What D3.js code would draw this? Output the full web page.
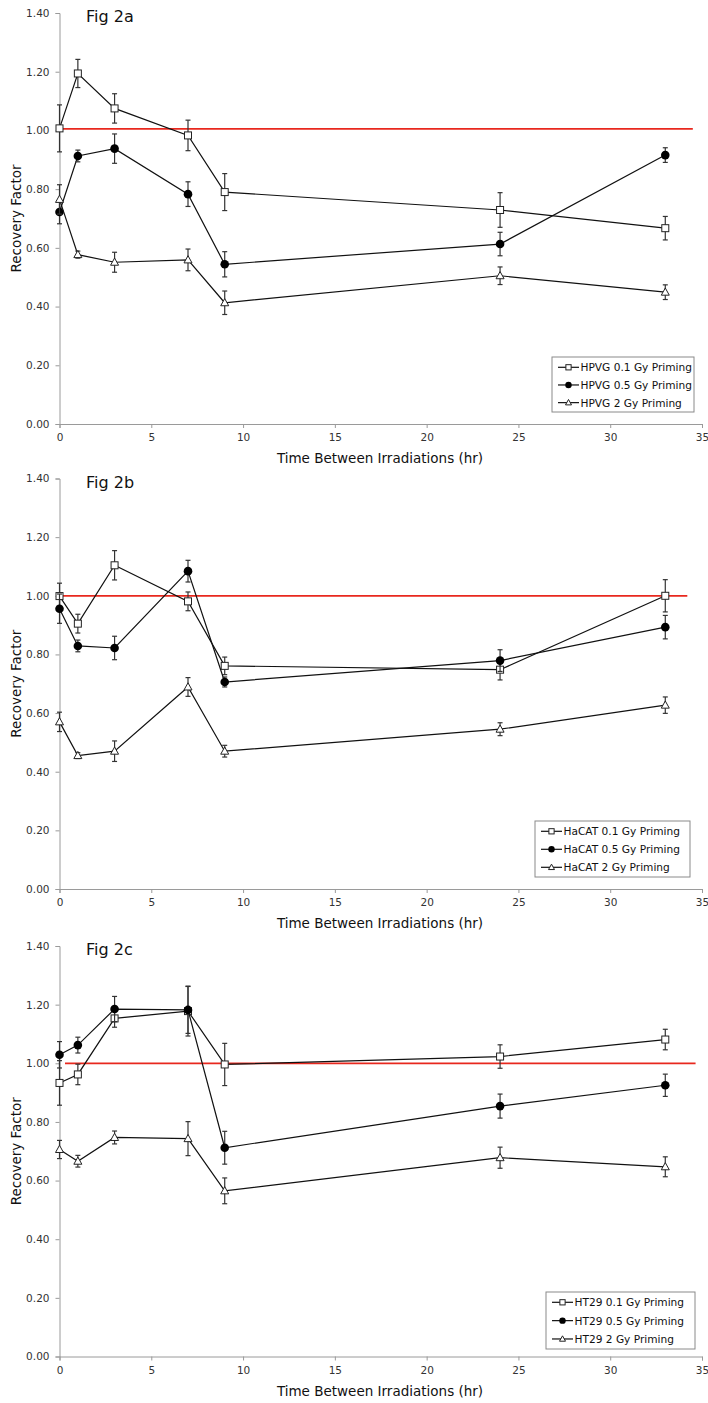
<!DOCTYPE html>
<html><head><meta charset="utf-8">
<script src="https://cdn.jsdelivr.net/npm/d3@7"></script>
<style>body{margin:0;background:#fff}svg{display:block}</style>
</head><body>
<script>
// ---- data ----
const hours = [0, 1, 3, 7, 9, 24, 33];
const xTicks = [0, 5, 10, 15, 20, 25, 30, 35];
const yTicks = [0, 0.2, 0.4, 0.6, 0.8, 1.0, 1.2, 1.4];
const panelTitles = ["Fig 2a", "Fig 2b", "Fig 2c"];
const cellLines = ["HPVG", "HaCAT", "HT29"];
const doses = ["0.1 Gy Priming", "0.5 Gy Priming", "2 Gy Priming"];

const hpvg01 = [1.007, 1.194, 1.075, 0.983, 0.790, 0.729, 0.667];
const hpvg01Err = [0.080, 0.048, 0.050, 0.052, 0.063, 0.059, 0.040];
const hpvg05 = [0.722, 0.913, 0.938, 0.783, 0.544, 0.613, 0.916];
const hpvg05Err = [0.040, 0.020, 0.050, 0.042, 0.043, 0.040, 0.025];
const hpvg2 = [0.765, 0.577, 0.551, 0.559, 0.413, 0.505, 0.449];
const hpvg2Err = [0.050, 0.012, 0.034, 0.037, 0.040, 0.030, 0.025];

const hacat01 = [0.999, 0.905, 1.104, 0.981, 0.761, 0.748, 1.000];
const hacat01Err = [0.044, 0.032, 0.050, 0.032, 0.030, 0.035, 0.055];
const hacat05 = [0.956, 0.829, 0.822, 1.084, 0.706, 0.779, 0.893];
const hacat05Err = [0.050, 0.020, 0.040, 0.037, 0.017, 0.037, 0.040];
const hacat2 = [0.570, 0.455, 0.470, 0.689, 0.470, 0.545, 0.627];
const hacat2Err = [0.033, 0.010, 0.035, 0.032, 0.020, 0.022, 0.028];

const ht2901 = [0.933, 0.962, 1.153, 1.178, 0.996, 1.023, 1.081];
const ht2901Err = [0.076, 0.035, 0.030, 0.085, 0.072, 0.040, 0.035];
const ht2905 = [1.029, 1.062, 1.185, 1.182, 0.712, 0.854, 0.925];
const ht2905Err = [0.045, 0.027, 0.043, 0.080, 0.056, 0.041, 0.038];
const ht292 = [0.706, 0.666, 0.747, 0.743, 0.565, 0.678, 0.647];
const ht292Err = [0.031, 0.020, 0.022, 0.058, 0.044, 0.036, 0.034];

// reference line (Recovery Factor = 1)
const refLineA = [[0, 1.005], [34.5, 1.005]];
const refLineB = [[0, 1.0], [34.2, 1.0]];
const refLineC = [[0.3, 1.0], [34.65, 1.0]];

const panelData = [
  {series: [[hpvg01, hpvg01Err], [hpvg05, hpvg05Err], [hpvg2, hpvg2Err]], ref: refLineA},
  {series: [[hacat01, hacat01Err], [hacat05, hacat05Err], [hacat2, hacat2Err]], ref: refLineB},
  {series: [[ht2901, ht2901Err], [ht2905, ht2905Err], [ht292, ht292Err]], ref: refLineC}
];
const markers = ["square", "circle", "triangle"];

// ---- layout ----
const W = 708, H = 1403;
const font = "'DejaVu Sans', sans-serif";
const svg = d3.select("body").append("svg").attr("width", W).attr("height", H);

const panelBox = [
  {top: 13, bottom: 424},
  {top: 478.5, bottom: 889},
  {top: 946, bottom: 1356.5}
];
const legendBox = [
  {x0: 552, x1: 694, y0: 357, y1: 412},
  {x0: 535, x1: 690, y0: 821, y1: 877},
  {x0: 546, x1: 695, y0: 1292, y1: 1349}
];
const left = 59.5, right = 702;

function drawMarker(g, type, cx, cy, s) {
  s = s || 1;
  if (type === "square") {
    g.append("rect").attr("x", cx - 3.5 * s).attr("y", cy - 3.5 * s).attr("width", 7 * s).attr("height", 7 * s)
      .attr("fill", "#fff").attr("stroke", "#222").attr("stroke-width", 1);
  } else if (type === "circle") {
    g.append("circle").attr("cx", cx).attr("cy", cy).attr("r", 4.3 * s).attr("fill", "#000");
  } else {
    g.append("path").attr("d", `M${cx},${cy - 4.2 * s}L${cx + 4 * s},${cy + 3 * s}L${cx - 4 * s},${cy + 3 * s}Z`)
      .attr("fill", "#fff").attr("stroke", "#222").attr("stroke-width", 1);
  }
}

panelData.forEach((pd, pi) => {
  const box = panelBox[pi];
  const x = d3.scaleLinear().domain([0, 35]).range([left, right]);
  const y = d3.scaleLinear().domain([0, 1.4]).range([box.bottom, box.top]);
  const g = svg.append("g");

  // axes
  const xAxis = d3.axisBottom(x).tickValues(xTicks).tickFormat(d3.format("d")).tickSizeOuter(0).tickSize(4).tickPadding(6);
  const gx = g.append("g").attr("transform", `translate(0,${box.bottom})`).call(xAxis);
  const yAxis = d3.axisLeft(y).tickValues(yTicks).tickFormat(d3.format(".2f")).tickSizeOuter(0).tickSize(4).tickPadding(6);
  const gy = g.append("g").attr("transform", `translate(${left},0)`).call(yAxis);
  [gx, gy].forEach(a => {
    a.select(".domain").attr("stroke", "#9a9a9a");
    a.selectAll(".tick line").attr("stroke", "#9a9a9a");
    a.selectAll(".tick text").attr("fill", "#333").attr("font-family", font).attr("font-size", 10.5);
  });

  // axis titles
  g.append("text").attr("x", 380).attr("y", box.bottom + 39).attr("text-anchor", "middle")
    .attr("font-family", font).attr("font-size", 13.5).attr("fill", "#111")
    .text("Time Between Irradiations (hr)");
  g.append("text").attr("transform", `translate(21,${(box.top + box.bottom) / 2}) rotate(-90)`)
    .attr("text-anchor", "middle").attr("font-family", font).attr("font-size", 13.5).attr("fill", "#111")
    .text("Recovery Factor");
  g.append("text").attr("x", 86).attr("y", box.top + 9).attr("font-family", font)
    .attr("font-size", 16).attr("fill", "#111").text(panelTitles[pi]);

  // red reference line
  const line = d3.line().x(d => x(d[0])).y(d => y(d[1]));
  g.append("path").attr("d", line(pd.ref)).attr("stroke", "#e8281e").attr("stroke-width", 1.8).attr("fill", "none");

  // series
  pd.series.forEach((s, si) => {
    const [vals, errs] = s;
    const pts = hours.map((h, i) => [h, vals[i], errs[i]]);
    g.append("path").attr("d", line(pts)).attr("stroke", "#111").attr("stroke-width", 1.2).attr("fill", "none");
    const eg = g.append("g").attr("stroke", "#333").attr("stroke-width", 1.2);
    pts.forEach(p => {
      const cx = x(p[0]), yt = y(p[1] + p[2]), yb = y(p[1] - p[2]);
      eg.append("line").attr("x1", cx).attr("x2", cx).attr("y1", yt).attr("y2", yb);
      eg.append("line").attr("x1", cx - 2.5).attr("x2", cx + 2.5).attr("y1", yt).attr("y2", yt);
      eg.append("line").attr("x1", cx - 2.5).attr("x2", cx + 2.5).attr("y1", yb).attr("y2", yb);
    });
    const mg = g.append("g");
    pts.forEach(p => drawMarker(mg, markers[si], x(p[0]), y(p[1])));
  });

  // legend
  const lb = legendBox[pi];
  const lg = g.append("g");
  const labels = doses.map(d => `${cellLines[pi]} ${d}`);
  const rowH = (lb.y1 - lb.y0 - 2) / 3;
  lg.append("rect").attr("x", lb.x0).attr("y", lb.y0).attr("width", lb.x1 - lb.x0).attr("height", lb.y1 - lb.y0)
    .attr("fill", "#fff").attr("stroke", "#8a8a8a").attr("stroke-width", 1);
  labels.forEach((l, i) => {
    const cy = lb.y0 + 10.3 + i * rowH;
    lg.append("line").attr("x1", lb.x0 + 6).attr("x2", lb.x0 + 27).attr("y1", cy).attr("y2", cy)
      .attr("stroke", "#111").attr("stroke-width", 1.2);
    drawMarker(lg, markers[i], lb.x0 + 16.5, cy, 0.75);
    lg.append("text").attr("x", lb.x0 + 28.5).attr("y", cy + 4).attr("font-family", font)
      .attr("font-size", 10.6).attr("fill", "#111").text(l);
  });
});
</script>
</body></html>
